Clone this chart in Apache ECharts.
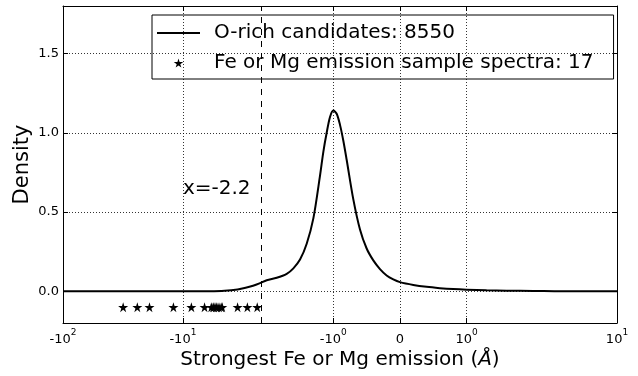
<!DOCTYPE html>
<html>
<head>
<meta charset="utf-8">
<script src="https://cdn.jsdelivr.net/npm/echarts@6/dist/echarts.min.js"></script>
<style>
  html, body { margin: 0; padding: 0; background: #fff; }
  #chart { width: 638px; height: 376px; }
</style>
</head>
<body>
<div id="chart"></div>
<script>
// Kernel density of the strongest Fe/Mg emission for the O-rich candidates
const kdeX = [-100, -30, -10, -6, -4.5, -3.5, -3.0, -2.6, -2.3, -2.0, -1.85, -1.7, -1.6, -1.5,
  -1.4, -1.3, -1.2, -1.15, -1.1, -1.05, -1.0, -0.95, -0.9, -0.85, -0.8, -0.7, -0.6, -0.5,
  -0.4, -0.3, -0.2, -0.1, 0, 0.2, 0.4, 0.6, 0.8, 1.0, 1.3, 1.6, 2, 3, 5, 10];
const kdeDensity = [0, 0, 0, 0.001, 0.004, 0.012, 0.022, 0.035, 0.05, 0.07, 0.085, 0.11, 0.145, 0.20,
  0.30, 0.46, 0.73, 0.88, 1.0, 1.10, 1.14, 1.12, 1.05, 0.95, 0.83, 0.58, 0.39, 0.27,
  0.195, 0.14, 0.10, 0.075, 0.058, 0.04, 0.028, 0.02, 0.014, 0.01, 0.006, 0.004, 0.002, 0.001, 0, 0];

// Strongest emission of the Fe or Mg emission sample spectra
const sampleX = [-31.5, -24.0, -19.0, -12.0, -8.5, -6.6, -5.8, -5.6, -5.5, -5.3, -5.2, -5.0,
  -4.8, -4.7, -3.5, -2.9, -2.4];
const sampleRowY = -0.1;

const cutoffX = -2.2;
const cutoffLabelAt = [-10, 0.6];
const candidateCount = 8550;

const xTickValues = [-100, -10, -1, 0, 1, 10];
const xTickLabels = [['-10', '2'], ['-10', '1'], ['-10', '0'], ['0', ''], ['10', '0'], ['10', '1']];
const xLimits = [-100, 10];
const yTickValues = [0, 0.5, 1.0, 1.5];
const yTickLabels = ['0.0', '0.5', '1.0', '1.5'];
const yLimits = [-0.2, 1.8];

// symmetric log scale: linear within +-2, base-10 log outside
const LINTHRESH = 2;
const LINSCALE_ADJ = 1 / (1 - 1 / 10);
function symlog(v) {
  const a = Math.abs(v);
  if (a <= LINTHRESH) return v * LINSCALE_ADJ;
  return Math.sign(v) * LINTHRESH * (LINSCALE_ADJ + Math.log10(a / LINTHRESH));
}

const FONT = 'DejaVu Sans';
const xTickPos = xTickValues.map(symlog);
const xMin = symlog(xLimits[0]);
const xMax = symlog(xLimits[1]);

function xLabel(v) {
  let best = 0;
  xTickPos.forEach((p, i) => { if (Math.abs(p - v) < Math.abs(xTickPos[best] - v)) best = i; });
  const [base, sup] = xTickLabels[best];
  return sup ? '{b|' + base + '}{s|' + sup + '}' : '{b|' + base + '}';
}
function yLabel(v) {
  let best = 0;
  yTickValues.forEach((p, i) => { if (Math.abs(p - v) < Math.abs(yTickValues[best] - v)) best = i; });
  return yTickLabels[best];
}

const dotted = { color: '#000', width: 0.8, type: [1, 2] };
const gridLines = [];
xTickValues.slice(1, 5).forEach(v => gridLines.push({ xAxis: symlog(v) }));
yTickValues.forEach(v => gridLines.push({ yAxis: v }));

const starPath = 'path://M50,0 L61,35 L98,35 L68,57 L79,91 L50,70 L21,91 L32,57 L2,35 L39,35 Z';
const lineIcon = 'path://M0,0 L43,0 L43,2 L0,2 Z';

const chart = echarts.init(document.getElementById('chart'), null, { renderer: 'canvas' });
chart.setOption({
  animation: false,
  backgroundColor: '#fff',
  textStyle: { fontFamily: FONT },
  grid: { left: 63, right: 21, top: 6, bottom: 53, containLabel: false },
  legend: {
    orient: 'vertical',
    left: 152,
    top: 15,
    padding: [6, 20, 4, 5],
    itemGap: 6,
    itemWidth: 43,
    itemHeight: 9,
    backgroundColor: '#fff',
    borderColor: '#000',
    borderWidth: 1,
    borderRadius: 0,
    selectedMode: false,
    textStyle: { fontFamily: FONT, fontSize: 20, color: '#000', lineHeight: 24, padding: [0, 0, 0, 9] },
    data: [
      { name: 'O-rich candidates: ' + candidateCount, icon: lineIcon, itemStyle: { color: '#000' } },
      { name: 'Fe or Mg emission sample spectra: ' + sampleX.length, icon: starPath, itemStyle: { color: '#000', opacity: 1 } }
    ]
  },
  xAxis: [{
    type: 'value',
    position: 'bottom',
    min: xMin,
    max: xMax,
    axisLine: { show: true, onZero: false, lineStyle: { color: '#000', width: 1 } },
    axisTick: { show: true, inside: true, length: 5, customValues: xTickPos, lineStyle: { color: '#000' } },
    axisLabel: {
      customValues: xTickPos,
      margin: 5,
      formatter: xLabel,
      rich: {
        b: { fontFamily: FONT, fontSize: 13, color: '#000', lineHeight: 18, verticalAlign: 'bottom' },
        s: { fontFamily: FONT, fontSize: 9, color: '#000', lineHeight: 18, verticalAlign: 'top' }
      }
    },
    splitLine: { show: false },
    name: '{t|Strongest Fe or Mg emission }{p|(}{a|Å}{p|)}',
    nameLocation: 'middle',
    nameGap: 27,
    nameMoveOverlap: false,
    nameTextStyle: {
      rich: {
        t: { fontFamily: FONT, fontSize: 20, color: '#000' },
        p: { fontFamily: FONT, fontSize: 20, color: '#000' },
        a: { fontFamily: FONT, fontSize: 20, fontStyle: 'italic', color: '#000' }
      }
    }
  }, {
    type: 'value',
    position: 'top',
    min: xMin,
    max: xMax,
    axisLine: { show: true, onZero: false, lineStyle: { color: '#000', width: 1 } },
    axisTick: { show: true, inside: true, length: 5, customValues: xTickPos, lineStyle: { color: '#000' } },
    axisLabel: { show: false },
    splitLine: { show: false }
  }],
  yAxis: [{
    type: 'value',
    position: 'left',
    min: yLimits[0],
    max: yLimits[1],
    axisLine: { show: true, onZero: false, lineStyle: { color: '#000', width: 1 } },
    axisTick: { show: true, inside: true, length: 5, customValues: yTickValues, lineStyle: { color: '#000' } },
    axisLabel: { customValues: yTickValues, formatter: yLabel, margin: 4, fontFamily: FONT, fontSize: 13, color: '#000' },
    splitLine: { show: false },
    name: 'Density',
    nameLocation: 'middle',
    nameGap: 30,
    nameMoveOverlap: false,
    nameTextStyle: { fontFamily: FONT, fontSize: 21, color: '#000' }
  }, {
    type: 'value',
    position: 'right',
    min: yLimits[0],
    max: yLimits[1],
    axisLine: { show: true, onZero: false, lineStyle: { color: '#000', width: 1 } },
    axisTick: { show: true, inside: true, length: 5, customValues: yTickValues, lineStyle: { color: '#000' } },
    axisLabel: { show: false },
    splitLine: { show: false }
  }],
  series: [{
    // dotted grid and the cut-off marker
    type: 'line',
    name: 'grid',
    data: [],
    silent: true,
    z: 1,
    markLine: {
      silent: true,
      symbol: 'none',
      label: { show: false },
      lineStyle: dotted,
      data: gridLines.concat([{ xAxis: symlog(cutoffX), lineStyle: { color: '#000', width: 1, type: [6, 6] } }])
    }
  }, {
    type: 'line',
    name: 'O-rich candidates: ' + candidateCount,
    data: kdeX.map((x, i) => [symlog(x), kdeDensity[i]]),
    showSymbol: false,
    symbol: 'none',
    smooth: 0.3,
    lineStyle: { color: '#000', width: 2 },
    itemStyle: { color: '#000' },
    z: 3
  }, {
    type: 'scatter',
    name: 'Fe or Mg emission sample spectra: ' + sampleX.length,
    data: sampleX.map(x => [symlog(x), sampleRowY]),
    symbol: starPath,
    symbolSize: 10,
    itemStyle: { color: '#000', opacity: 1 },
    z: 4
  }, {
    type: 'scatter',
    name: 'cutoff label',
    data: [[symlog(cutoffLabelAt[0]), cutoffLabelAt[1]]],
    symbolSize: 0,
    silent: true,
    itemStyle: { opacity: 1 },
    label: {
      show: true,
      position: 'right',
      distance: 0,
      offset: [0, -7],
      formatter: 'x=' + cutoffX,
      fontFamily: FONT,
      fontSize: 20,
      color: '#000',
      opacity: 1
    },
    z: 4
  }]
});
</script>
</body>
</html>
